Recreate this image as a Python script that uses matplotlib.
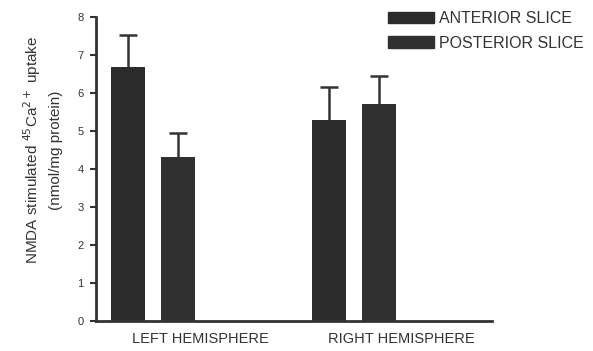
import numpy as np
import matplotlib.pyplot as plt
from matplotlib.patches import Patch

plt.rcParams['font.family'] = ['Liberation Sans', 'DejaVu Sans']

groups = ['LEFT HEMISPHERE', 'RIGHT HEMISPHERE']
anterior = [6.68, 5.3]
anterior_err = [0.85, 0.85]
posterior = [4.32, 5.72]
posterior_err = [0.62, 0.72]

BAR_COLOR = '#2b2b2b'
INK = '#333333'

fig = plt.figure(figsize=(5.93, 3.51), dpi=100)
ax = fig.add_axes([0.162, 0.085, 0.668, 0.867])

x = np.arange(len(groups))
width = 0.17
offset = 0.124
cap = 0.045

for pos, vals, errs, col in [(x - offset, anterior, anterior_err, BAR_COLOR),
                             (x + offset, posterior, posterior_err, '#303030')]:
    ax.bar(pos, vals, width, color=col, zorder=2)
    tops = np.array(vals) + np.array(errs)
    # upper error bar only
    ax.vlines(pos, vals, tops, color=INK, lw=1.8, zorder=1)
    ax.hlines(tops, pos - cap, pos + cap, color=INK, lw=1.8, zorder=1)

ax.set_xlim(-0.284, 1.687)
ax.set_ylim(0, 8)
ax.set_yticks(range(9))
ax.set_xticks(x + 0.235)
ax.set_xticklabels(groups, fontsize=10.5, color=INK)
ax.tick_params(axis='x', length=0, pad=8)
ax.tick_params(axis='y', labelsize=8, colors=INK, length=4, width=1.5, pad=5)

for side in ['top', 'right']:
    ax.spines[side].set_visible(False)
for side in ['left', 'bottom']:
    ax.spines[side].set_linewidth(2)
    ax.spines[side].set_color(INK)

fig.text(42 / 593, 1 - 150 / 351,
         'NMDA stimulated $^{45}$Ca$^{2+}$ uptake\n(nmol/mg protein)',
         rotation=90, ha='center', va='center', fontsize=11, color=INK,
         linespacing=1.6, multialignment='center')

handles = [Patch(color=BAR_COLOR, label='ANTERIOR SLICE'),
           Patch(color='#303030', label='POSTERIOR SLICE')]
fig.legend(handles=handles, loc='upper left', bbox_to_anchor=(0.63, 1.009),
           frameon=False, fontsize=11.5, handlelength=2.9, handleheight=0.75,
           labelspacing=0.6, handletextpad=0.3, labelcolor=INK)

fig.savefig('out.png', dpi=100)
